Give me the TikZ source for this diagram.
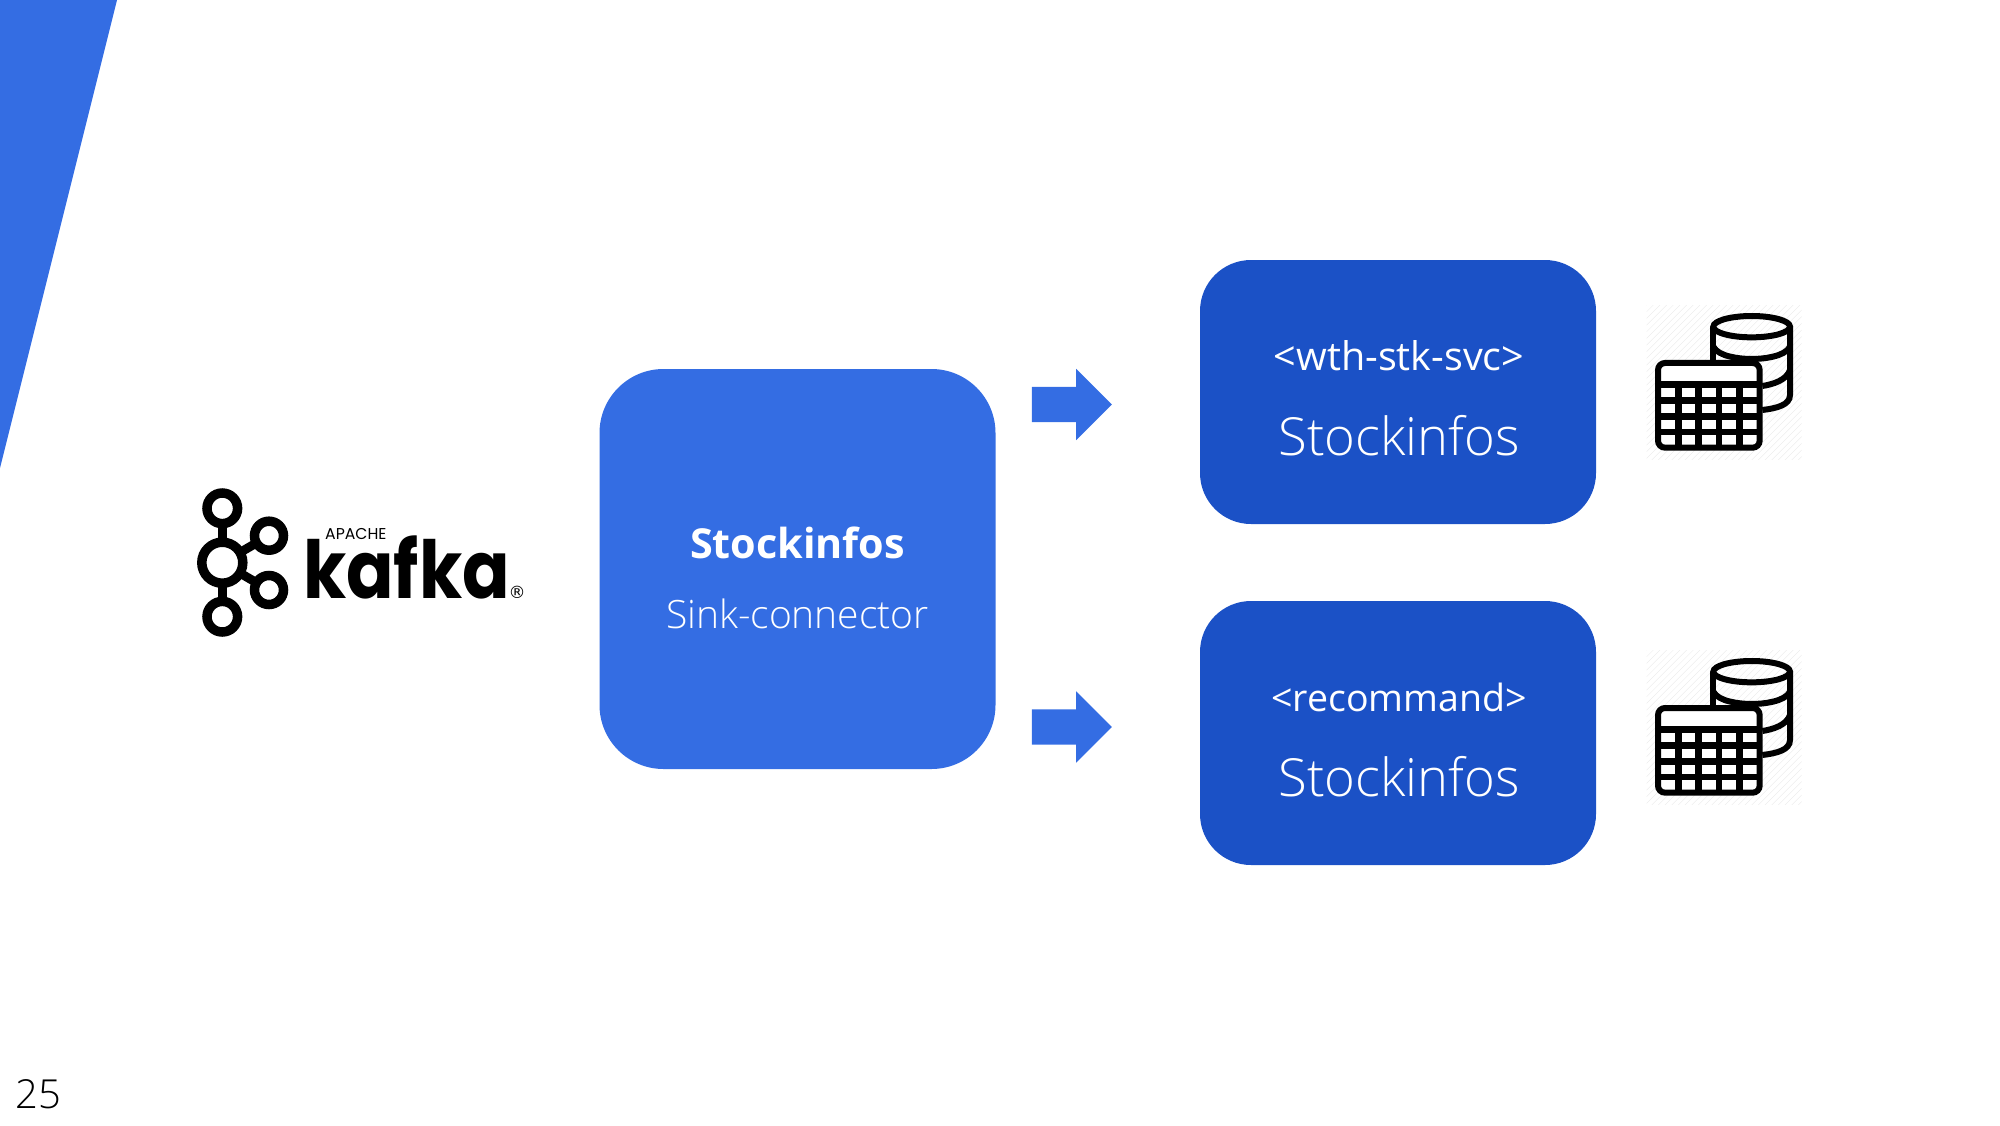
\documentclass[tikz,border=0pt]{standalone}
\usepackage{fontspec}
\setmainfont{Open Sans}
\newfontfamily\lightfont{Open Sans Light}
\newfontfamily\logofont{Poppins}[BoldFont={* Bold},BoldFeatures={FakeStretch=.875}]
\newfontfamily\markfont{DejaVu Sans}
\usetikzlibrary{shapes.arrows}
\definecolor{midblue}{HTML}{346DE3}
\definecolor{deepblue}{HTML}{1B51C6}
\tikzset{
  bigbox/.style = {fill=#1, rounded corners=51pt, minimum width=396pt, inner sep=0pt},
  blockarrow/.style = {fill=midblue, single arrow, single arrow head extend=18pt, minimum width=71pt, minimum height=80pt, inner xsep=0pt, inner ysep=17.5pt},
  logoring/.style = {line width=9.5pt}
}
\newcommand{\dbicon}{
  \begin{scope}
  \clip (50,45) rectangle (515,510);
  \foreach \k in {50,70,...,980}
    \draw [black!7,line width=.5pt] (\k-465,510) -- (\k,45);
  \end{scope}
  \draw [line width=6pt] (250,215) -- (250,110);
  \draw [line width=6pt] (480,110) -- (480,315) .. controls (480,345) and (440,355) .. (397,360);
  \draw [line width=6pt] (365,110) ellipse (115 and 32);
  \draw [line width=6pt] (250,170) .. controls (265,200) and (330,207) .. (365,207) .. controls (400,207) and (465,200) .. (480,170);
  \draw [line width=6pt] (397,288) .. controls (430,283) and (470,270) .. (480,240);
  \draw [line width=6pt,fill=white,rounded corners=7pt] (84,219) rectangle (389,473);
  \draw [line width=6.5pt] (84,283) -- (389,283);
  \draw [line width=6.5pt] (84,332) -- (389,332);
  \draw [line width=6.5pt] (84,380) -- (389,380);
  \draw [line width=6.5pt] (84,426) -- (389,426);
  \draw [line width=6.5pt] (145,283) -- (145,473);
  \draw [line width=6.5pt] (206,283) -- (206,473);
  \draw [line width=6.5pt] (267,283) -- (267,473);
  \draw [line width=6.5pt] (328,283) -- (328,473);
}
\begin{document}
\begin{tikzpicture}[x=1pt,y=-1pt]
\useasboundingbox (0,0) rectangle (2000,1125);
\fill [midblue] (0,0) -- (117,0) -- (0,468) -- cycle;

\draw [line width=9pt] (222.3,508) -- (222.3,617);
\draw [line width=9pt] (222.3,562.7) -- (269,535.7);
\draw [line width=9pt] (222.3,562.7) -- (269,590);
\draw [logoring,fill=white] (222.3,508.3) circle (15.3);
\draw [logoring,fill=white] (269,535.7) circle (14.5);
\draw [logoring,fill=white] (269,590) circle (14.5);
\draw [logoring,fill=white] (222.3,616.7) circle (15.3);
\draw [logoring,fill=white] (222.3,562.7) circle (20.5);
\node (kafkaname) [anchor=base west,inner sep=0pt,font=\logofont\bfseries\fontsize{80}{80}\selectfont] at (303,598) {kafka};
\node (apache) [anchor=base west,inner sep=0pt,font=\logofont\fontsize{15.7}{15.7}\selectfont] at (325,539) {APACHE};
\node (regmark) [inner sep=0pt,font=\markfont\fontsize{17}{17}\selectfont] at (517,592) {®};

\node (sinkbox) [bigbox=midblue,rounded corners=64pt,minimum height=400pt] at (797.5,569) {};
\node (sinktitle) [text=white,font=\bfseries\fontsize{41.3}{41.3}\selectfont] at (797.5,543) {Stockinfos};
\node (sinkname) [text=white,font=\lightfont\fontsize{39}{39}\selectfont] at (797.5,614) {Sink-connector};

\node (arrowtop) [blockarrow] at (1063,404.5) {};
\node (arrowbot) [blockarrow] at (1063,727) {};

\node (wthbox) [bigbox=deepblue,minimum height=264pt] at (1398,392) {};
\node (wthname) [text=white,font=\fontsize{39.5}{39.5}\selectfont] at (1399,356) {<wth-stk-svc>};
\node (wthtable) [text=white,font=\lightfont\fontsize{52.5}{52.5}\selectfont] at (1399,436) {Stockinfos};

\node (recbox) [bigbox=deepblue,minimum height=264pt] at (1398,733) {};
\node (recname) [text=white,font=\fontsize{37.5}{37.5}\selectfont] at (1399,697) {<recommand>};
\node (rectable) [text=white,font=\lightfont\fontsize{52.5}{52.5}\selectfont] at (1399,777) {Stockinfos};

\begin{scope}[shift={(1630,290)},x=.3333pt,y=-.3333pt]
\dbicon
\end{scope}
\begin{scope}[shift={(1630,635)},x=.3333pt,y=-.3333pt]
\dbicon
\end{scope}

\node (pagenum) [anchor=base west,inner sep=0pt,font=\lightfont\fontsize{40}{40}\selectfont] at (15,1108) {25};
\end{tikzpicture}
\end{document}
